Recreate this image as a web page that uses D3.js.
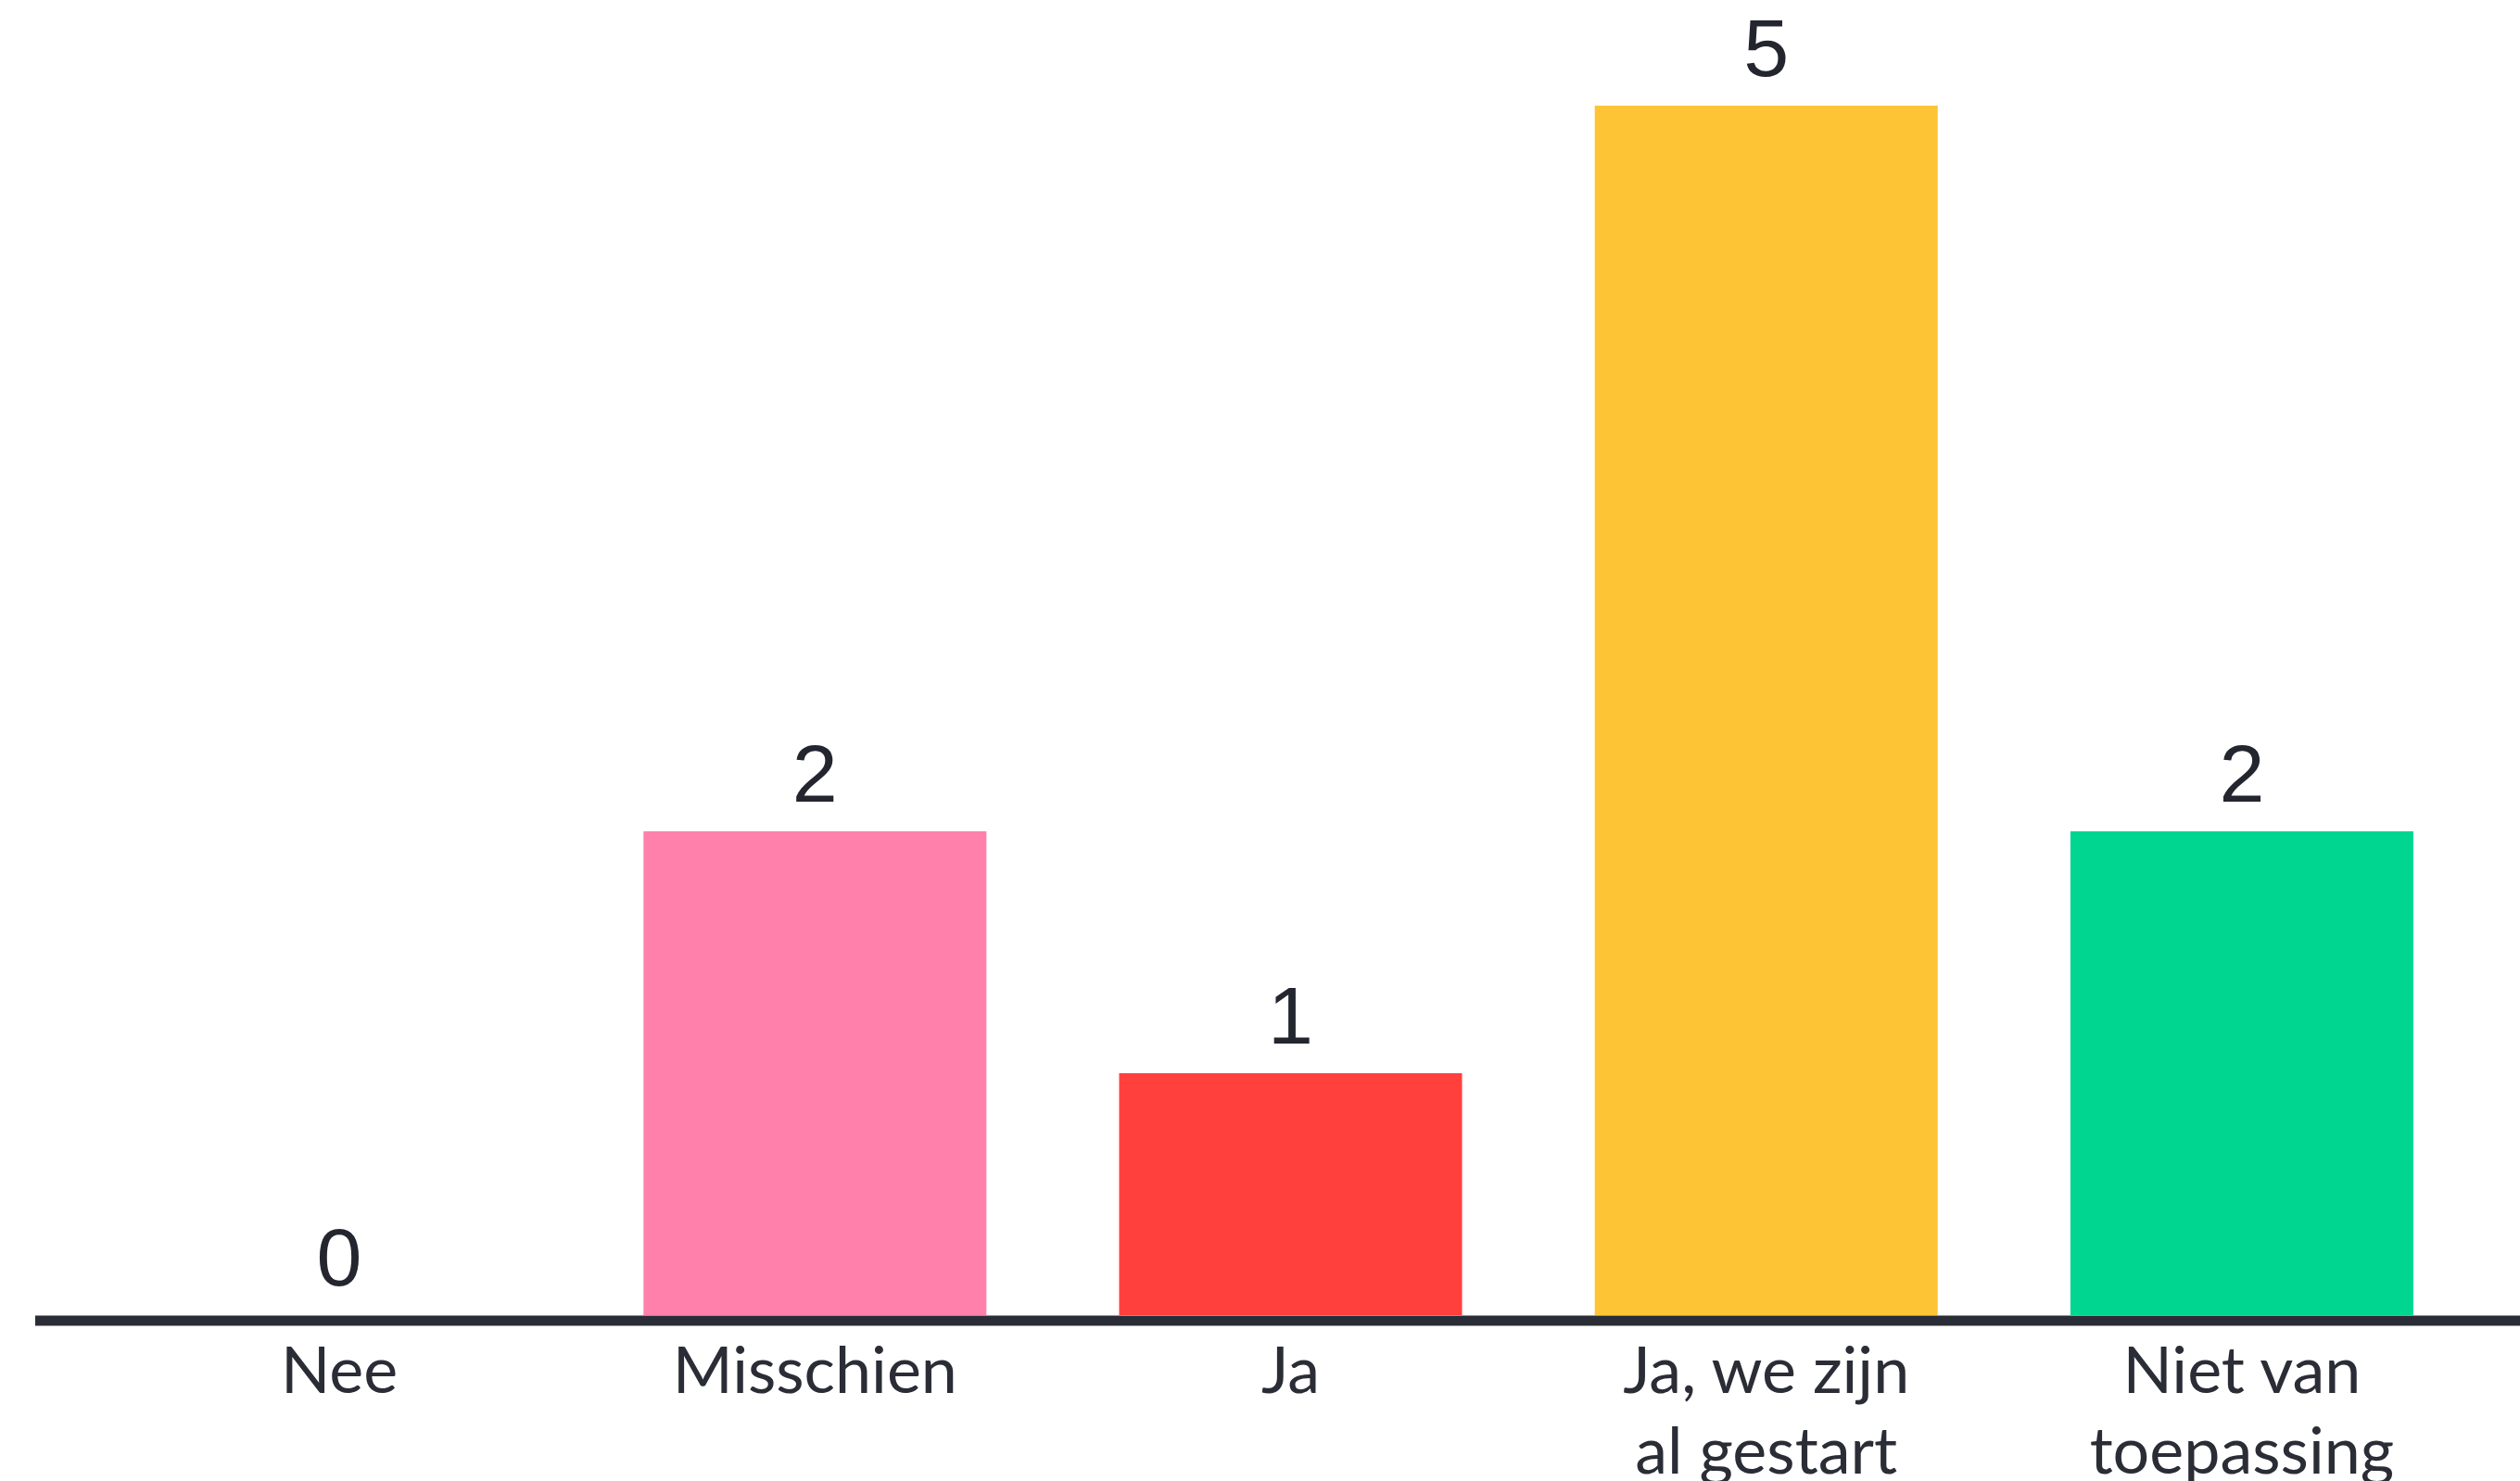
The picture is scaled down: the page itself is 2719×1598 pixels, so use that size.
<!DOCTYPE html>
<meta charset="utf-8">
<style>
body {
  margin: 0;
  background: #fff;
  width: 2719px;
  height: 1598px;
  overflow: hidden;
}

.value {
  font-family: "Liberation Sans", Arial, sans-serif;
  font-size: 88px;
  fill: #23262e;
  text-anchor: middle;
}

.tick text {
  font-family: Lato, "Open Sans", sans-serif;
  font-size: 70px;
  fill: #2a2d36;
}

.baseline {
  stroke: #2a2d36;
  stroke-width: 11px;
}
</style>
<body>
<script src="https://cdn.jsdelivr.net/npm/d3@7"></script>
<script>

var categories = ["Nee", "Misschien", "Ja", "Ja, we zijn al gestart", "Niet van toepassing"];
var counts = [0, 2, 1, 5, 2];
var colors = ["#ff80ab", "#ff80ab", "#ff403d", "#fdc436", "#00d68f"];
var tickLabels = [["Nee"], ["Misschien"], ["Ja"], ["Ja, we zijn", "al gestart"], ["Niet van", "toepassing"]];

var width = 2719,
    height = 1598,
    baseY = 1419;

var svg = d3.select("body").append("svg")
    .attr("width", width)
    .attr("height", height);

var x = d3.scaleBand()
    .domain(categories)
    .range([109.5, 2675.5])
    .paddingInner(0.279)
    .paddingOuter(0.1395);

var y = d3.scaleLinear()
    .domain([0, 5])
    .range([baseY, 114]);

svg.selectAll("rect.bar")
    .data(categories)
  .enter().append("rect")
    .attr("class", "bar")
    .attr("x", function(d) { return x(d); })
    .attr("width", x.bandwidth())
    .attr("y", function(d, i) { return y(counts[i]); })
    .attr("height", function(d, i) { return baseY - y(counts[i]); })
    .attr("fill", function(d, i) { return colors[i]; });

svg.selectAll("text.value")
    .data(categories)
  .enter().append("text")
    .attr("class", "value")
    .attr("x", function(d) { return x(d) + x.bandwidth() / 2; })
    .attr("y", function(d, i) { return y(counts[i]) - 32; })
    .text(function(d, i) { return counts[i]; });

// baseline
svg.append("line")
    .attr("class", "baseline")
    .attr("x1", 38)
    .attr("x2", width)
    .attr("y1", baseY + 6)
    .attr("y2", baseY + 6);

var axis = svg.append("g")
    .attr("transform", "translate(0," + (baseY + 11) + ")")
    .call(d3.axisBottom(x).tickSize(0).tickPadding(0));

axis.select(".domain").remove();

axis.selectAll(".tick text")
    .attr("y", 0)
    .attr("dy", null)
    .each(function(d, i) {
      var t = d3.select(this).text(null);
      tickLabels[i].forEach(function(line, j) {
        t.append("tspan")
          .attr("x", 0)
          .attr("y", 73 + j * 87)
          .text(line);
      });
    });

</script>
</body>
